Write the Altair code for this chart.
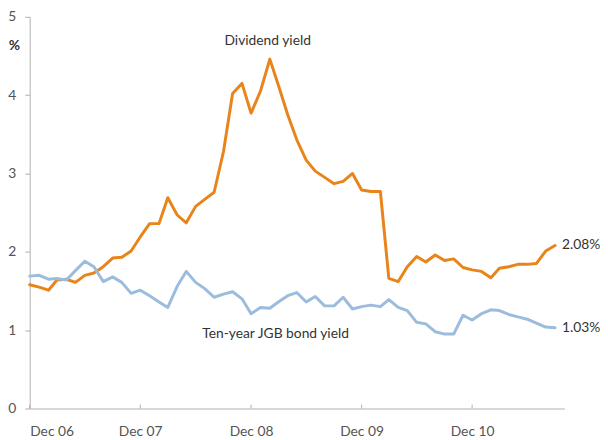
import altair as alt
import pandas as pd

# Monthly observations, Dec 2006 .. Sep 2011
months = pd.date_range("2006-12-01", periods=58, freq="MS").strftime("%Y-%m-%dT00:00:00").tolist()

dividend_yield = [
    1.58, 1.55, 1.51, 1.64, 1.65, 1.61, 1.70, 1.73, 1.81, 1.92, 1.93, 2.01,
    2.19, 2.36, 2.36, 2.69, 2.47, 2.37, 2.58, 2.67, 2.76, 3.28, 4.02, 4.15,
    3.77, 4.05, 4.46, 4.13, 3.75, 3.43, 3.17, 3.03, 2.95, 2.87, 2.90, 3.00,
    2.79, 2.77, 2.77, 1.66, 1.62, 1.81, 1.94, 1.87, 1.96, 1.89, 1.91, 1.80,
    1.77, 1.75, 1.67, 1.79, 1.81, 1.84, 1.84, 1.85, 2.01, 2.08,
]
jgb_yield = [
    1.69, 1.70, 1.65, 1.66, 1.64, 1.76, 1.88, 1.81, 1.62, 1.68, 1.61, 1.47,
    1.51, 1.44, 1.36, 1.29, 1.56, 1.75, 1.61, 1.53, 1.42, 1.46, 1.49, 1.40,
    1.21, 1.29, 1.28, 1.36, 1.44, 1.48, 1.36, 1.43, 1.31, 1.31, 1.42, 1.27,
    1.30, 1.32, 1.30, 1.39, 1.29, 1.25, 1.10, 1.08, 0.98, 0.95, 0.95, 1.19,
    1.13, 1.21, 1.26, 1.25, 1.20, 1.17, 1.14, 1.09, 1.04, 1.03,
]
series_names = ["Dividend yield", "Ten-year JGB bond yield"]
series_colors = ["#E8841A", "#9BBCDD"]

y_ticks = [0, 1, 2, 3, 4, 5]
x_tick_years = [2006, 2007, 2008, 2009, 2010]

end_labels = ["2.08%", "1.03%"]
end_values = [2.08, 1.03]

# annotation positions (date, value)
ann_labels = ["Dividend yield", "Ten-year JGB bond yield"]
ann_dates = ["2009-01-25T00:00:00", "2009-02-20T00:00:00"]
ann_values = [4.69, 0.95]

df = pd.DataFrame({
    "date": months * 2,
    "value": dividend_yield + jgb_yield,
    "series": [series_names[0]] * len(months) + [series_names[1]] * len(months),
})
end_df = pd.DataFrame({"date": [months[-1]] * 2, "value": end_values, "label": end_labels})
ann_df = pd.DataFrame({"date": ann_dates, "value": ann_values, "label": ann_labels})
tick_df = pd.DataFrame({"date": [f"{y}-12-01T00:00:00" for y in x_tick_years]})

x_scale = alt.Scale(domain=[alt.DateTime(year=2006, month=12, date=1),
                            alt.DateTime(year=2011, month=10, date=2)])
y_scale = alt.Scale(domain=[0, 5])

x_axis = alt.Axis(
    values=[alt.DateTime(year=y, month=12, date=1) for y in x_tick_years],
    format="%b %y", ticks=False, labelPadding=16, title=None,
)
y_axis = alt.Axis(
    values=y_ticks, format="d", tickSize=5, labelPadding=9, title="%",
    titleAngle=0, titleX=-16, titleY=29, titleAlign="center", titleBaseline="middle",
    titleFontWeight="bold", titleFontSize=14, titleColor="#333333", titleFont="Lato",
)

lines = alt.Chart(df).mark_line(strokeWidth=3, strokeJoin="round", strokeCap="round").encode(
    x=alt.X("date:T", scale=x_scale, axis=x_axis),
    y=alt.Y("value:Q", scale=y_scale, axis=y_axis),
    color=alt.Color("series:N", scale=alt.Scale(domain=series_names, range=series_colors), legend=None),
)

xticks = alt.Chart(tick_df).mark_rule(color="#B0B0B0", strokeWidth=1).encode(
    x="date:T", y=alt.datum(0), y2=alt.datum(0.05),
)

ends = alt.Chart(end_df).mark_text(
    align="left", baseline="middle", dx=7, font="Lato", fontSize=14, color="#333333"
).encode(x="date:T", y="value:Q", text="label:N")

anns = alt.Chart(ann_df).mark_text(
    align="center", baseline="middle", font="Lato", fontSize=14, color="#333333"
).encode(x="date:T", y="value:Q", text="label:N")

chart = alt.layer(xticks, lines, ends, anns).properties(
    width=542, height=397,
    padding={"left": 22, "top": 6, "right": 36, "bottom": 28},
    autosize=alt.AutoSizeParams(type="none"),
).configure_view(stroke=None).configure_axis(
    grid=False, labelFont="Lato", labelFontSize=14, labelColor="#555555",
    domainColor="#B0B0B0", tickColor="#B0B0B0",
)

chart.save("out.html", embed_options={"renderer": "svg", "actions": False})
